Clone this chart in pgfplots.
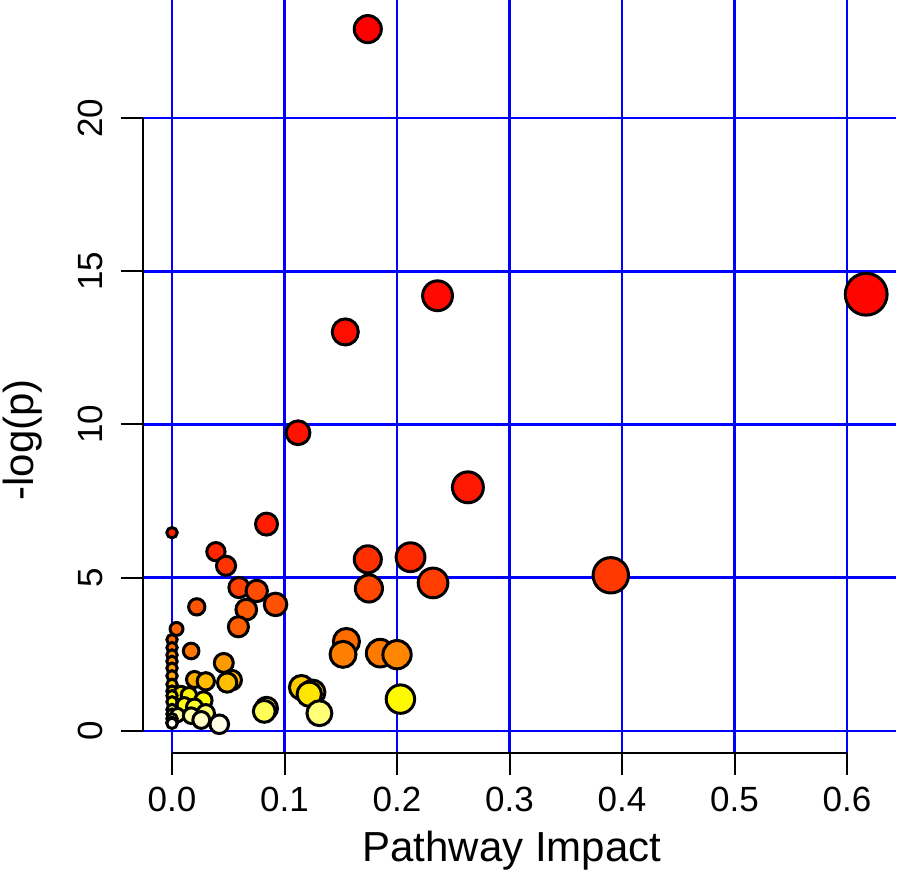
\documentclass[border=0pt]{standalone}
\usepackage{pgfplots}
\pgfplotsset{compat=1.18}
\usepackage{pgfplotstable}
\usepackage{fontspec}
\setmainfont{Liberation Sans}

\pgfplotstableread{
x y
0.174 22.90
0.617 14.25
0.236 14.20
0.154 13.02
0.112 9.73
0.263 7.95
0.084 6.75
0.000 6.47
0.039 5.85
0.212 5.67
0.174 5.60
0.048 5.39
0.390 5.08
0.232 4.83
0.0595 4.68
0.175 4.65
0.0753 4.57
0.092 4.13
0.022 4.05
0.066 3.96
0.059 3.40
0.004 3.33
0.000 2.98
0.155 2.92
0.000 2.72
0.017 2.61
0.185 2.54
0.152 2.50
0.200 2.49
0.000 2.48
0.000 2.27
0.046 2.22
0.000 2.05
0.000 1.80
0.020 1.68
0.053 1.66
0.030 1.62
0.049 1.58
0.000 1.52
0.115 1.42
0.125 1.26
0.000 1.30
0.008 1.23
0.122 1.20
0.000 1.15
0.015 1.17
0.203 1.04
0.028 1.00
0.000 0.95
0.011 0.85
0.020 0.78
0.084 0.74
0.000 0.70
0.082 0.64
0.030 0.58
0.131 0.58
0.000 0.55
0.005 0.52
0.017 0.50
0.000 0.40
0.026 0.36
0.000 0.28
0.042 0.22
0.000 0.25
}\pts

\begin{document}
\begin{tikzpicture}
\useasboundingbox (-143pt,-125pt) rectangle (755pt,753pt);
\begin{axis}[
  scale only axis,
  width=753pt, height=753pt,
  xmin=-0.0258, xmax=0.6435,
  ymin=-0.718, ymax=23.85,
  clip=false,
  axis line style={draw=none},
  tick pos=left,
  tick align=outside,
  major tick length=22pt,
  tick style={black, line width=2pt},
  grid=major,
  major grid style={draw={rgb,255:red,0;green,0;blue,255}, line width=2.8pt},
  xtick={0,0.1,0.2,0.3,0.4,0.5,0.6},
  ytick={0,5,10,15,20},
  /pgf/number format/assume math mode=true,
  ticklabel style={font=\fontsize{35}{40}\selectfont},
  yticklabel shift=18pt,
  xticklabel shift=12pt,
  yticklabel style={rotate=90, anchor=south, inner sep=0pt},
  xticklabel style={anchor=north, inner sep=0pt, /pgf/number format/.cd, fixed, fixed zerofill, precision=1},
  colormap={heat}{rgb255(0)=(255,0,0) rgb255(27)=(255,128,0) rgb255(47)=(255,255,0) rgb255(48)=(255,255,8) rgb255(63)=(255,255,247)},
  point meta min=0, point meta max=63,
]
\draw[black, line width=2.2pt] (axis cs:-0.0258,0) -- (axis cs:-0.0258,20);
\draw[black, line width=2.2pt] (axis cs:0,-0.718) -- (axis cs:0.6,-0.718);
\addplot[scatter, only marks, mark=*,
  point meta=\coordindex,
  scatter/use mapped color={draw=black, fill=mapped color},
  mark options={line width=3pt},
  visualization depends on={5.2+20*sqrt(\thisrow{x}) \as \rad},
  scatter/@pre marker code/.append style={/tikz/mark size=\rad pt},
] table[x=x, y=y] {\pts};
\node[font=\fontsize{42}{48}\selectfont, anchor=base] at ([yshift=-109pt]axis description cs:0.49,0) {Pathway Impact};
\node[font=\fontsize{42}{48}\selectfont, anchor=base, rotate=90] at ([xshift=-109pt]axis description cs:0,0.416) {-log(p)};
\end{axis}
\end{tikzpicture}
\end{document}
